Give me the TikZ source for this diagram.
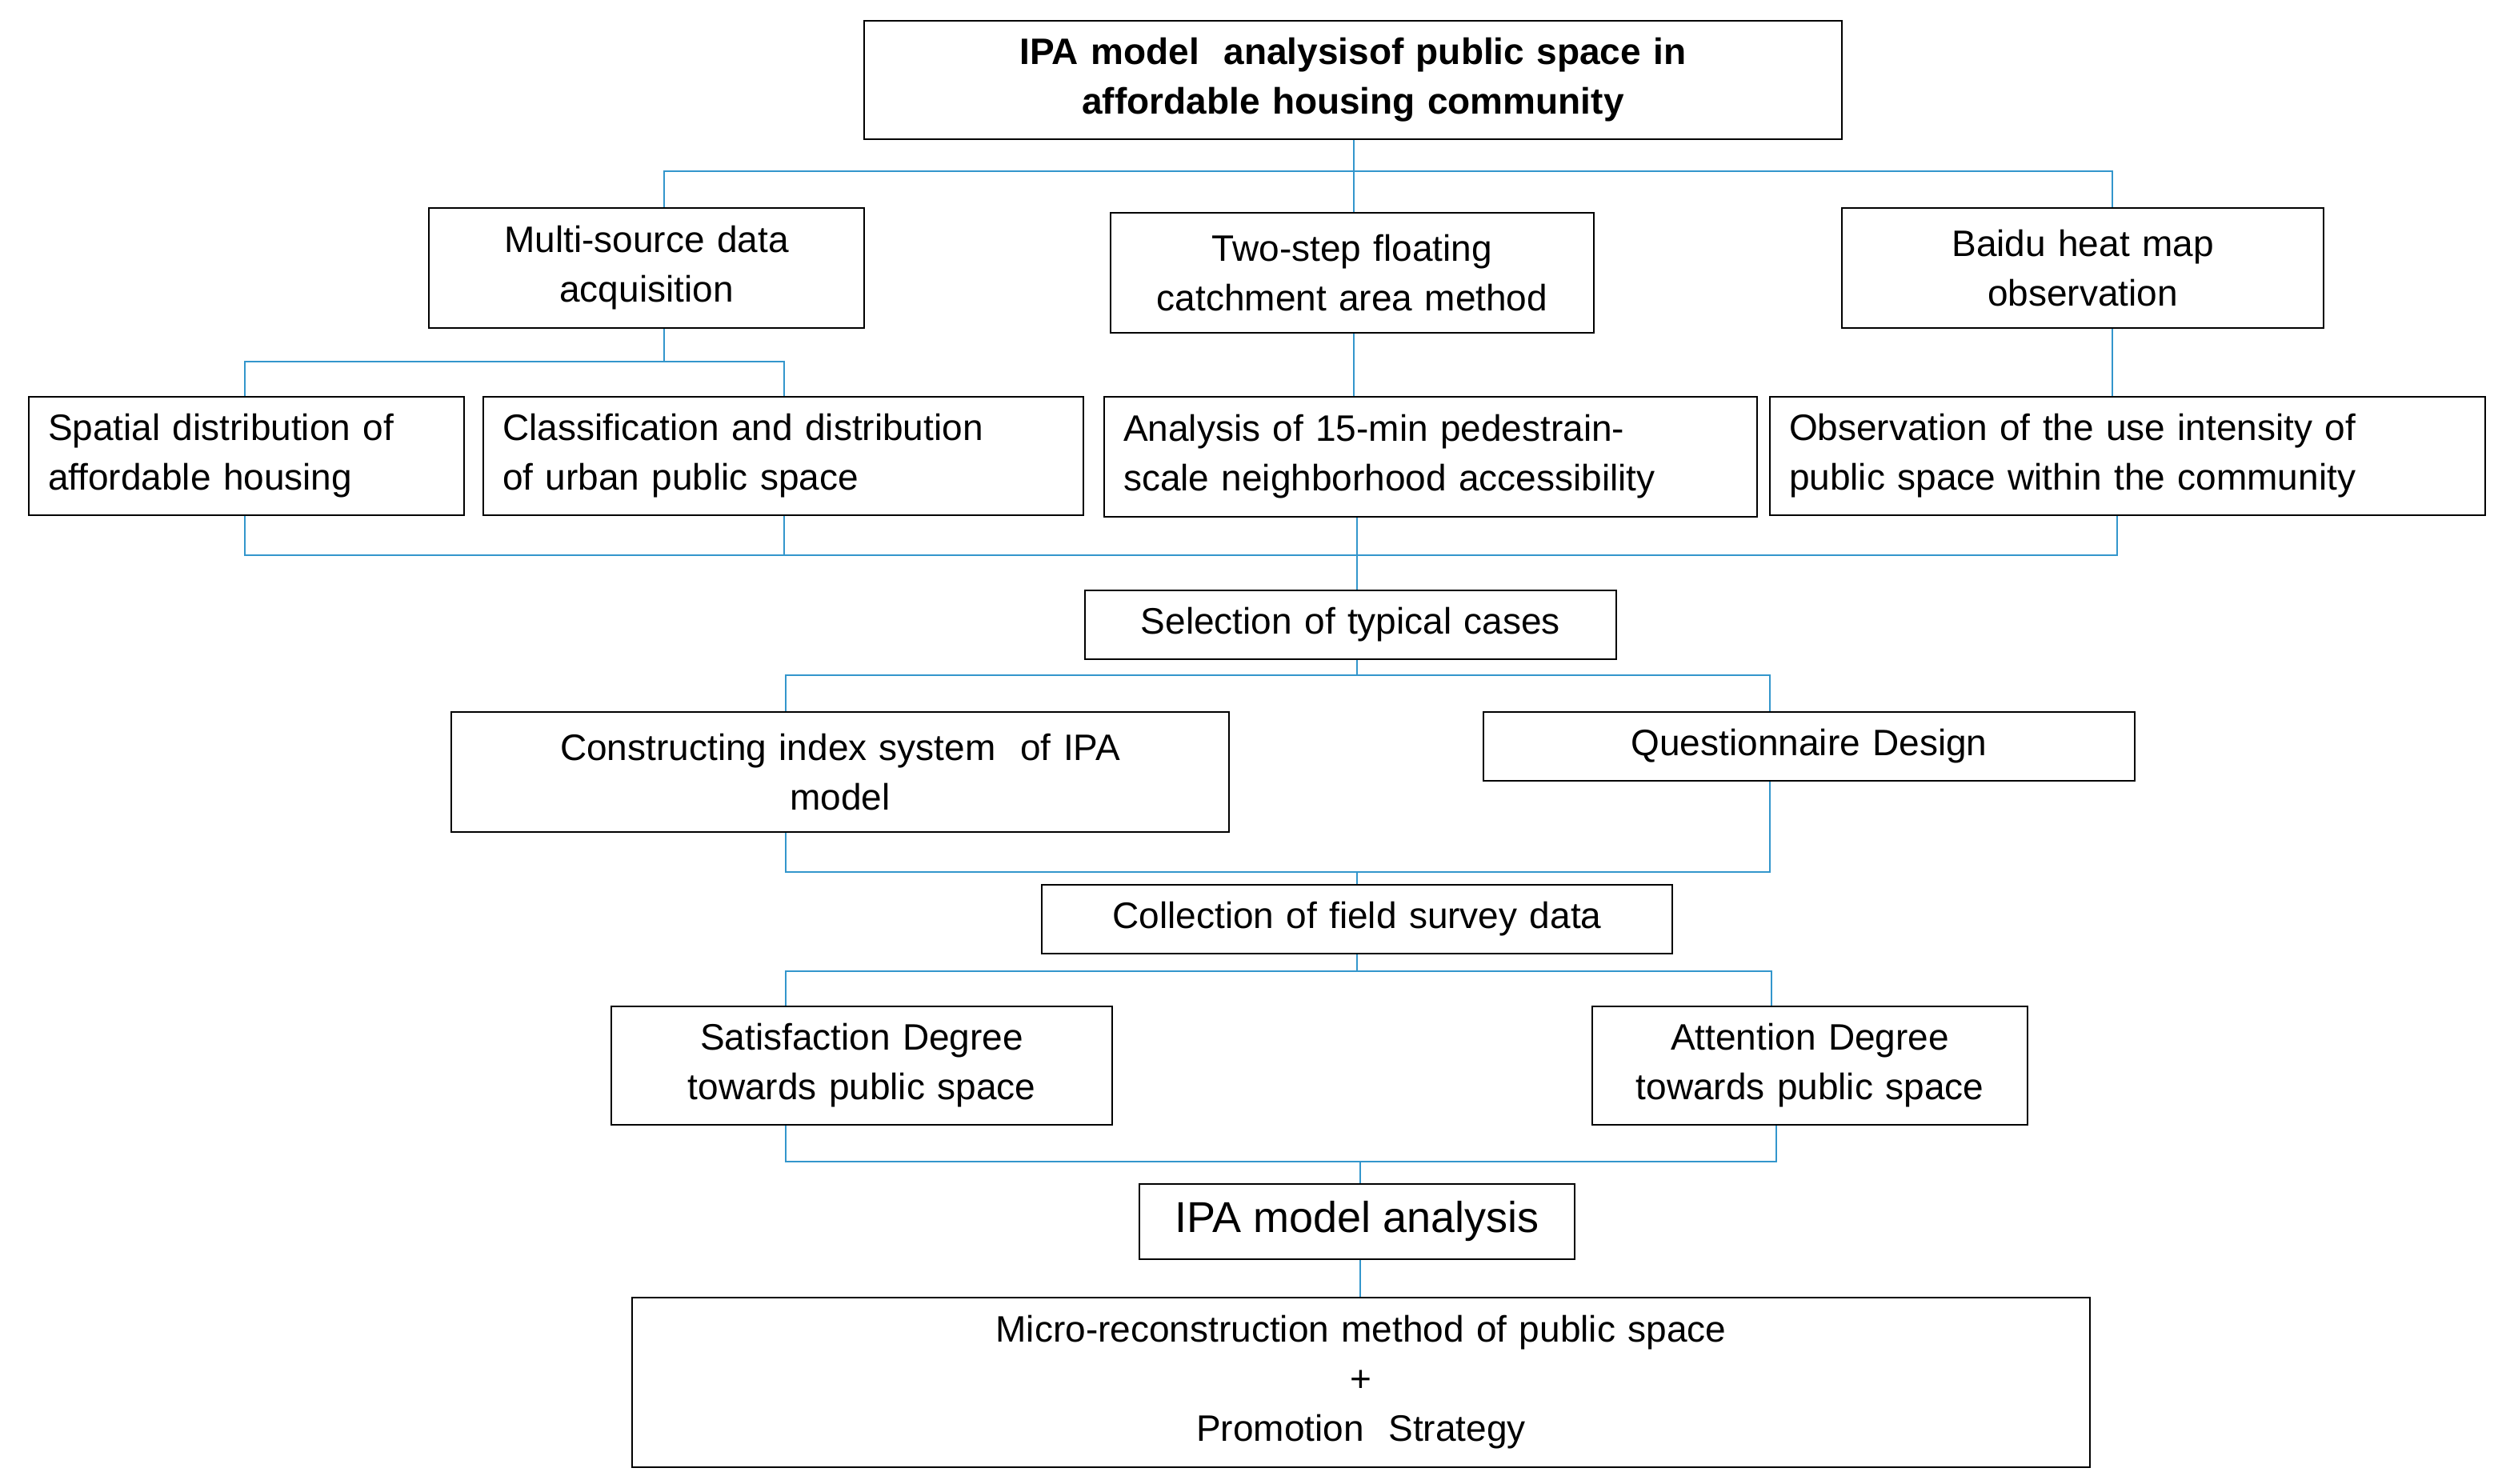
\documentclass[tikz,border=0pt]{standalone}
\usepackage{fontspec}
\setmainfont{Liberation Sans}
\begin{document}
\begin{tikzpicture}[x=1pt,y=-1pt,
  ln/.style={draw=blue!35!cyan!60!gray, line width=1.2pt},
  bx/.style={draw=black, line width=1.2pt, inner sep=0pt, font=\fontsize{23}{31}\selectfont}]
\useasboundingbox (0,0) rectangle (1561,927.5);
\newcommand\bxx[7]{\node[bx, minimum width=#4-#2, minimum height=#5-#3, text width=#4-#2-24pt, align=#6] (#1) at ({(#2+#4)/2},{(#3+#5)/2}) {#7};}
\bxx{t}{540}{13}{1151}{87}{center}{\textbf{IPA model\ \ analysisof public space in}\\\textbf{affordable housing community}}
\bxx{ms}{268}{130}{540}{205}{center}{Multi-source data\\acquisition}
\bxx{ts}{694}{133}{996}{208}{center}{Two-step floating\\catchment area method}
\bxx{bd}{1151}{130}{1452}{205}{center}{Baidu heat map\\observation}
\bxx{sp}{18}{248}{290}{322}{left}{Spatial distribution of\\affordable housing}
\bxx{cl}{302}{248}{677}{322}{left}{Classification and distribution\\of urban public space}
\bxx{an}{690}{248}{1098}{323}{left}{Analysis of 15-min pedestrain-\\scale neighborhood accessibility}
\bxx{ob}{1106}{248}{1553}{322}{left}{Observation of the use intensity of\\public space within the community}
\bxx{se}{678}{369}{1010}{412}{center}{Selection of typical cases}
\bxx{co}{282}{445}{768}{520}{center}{Constructing index system\ \ of IPA\\model}
\bxx{qd}{927}{445}{1334}{488}{center}{Questionnaire Design}
\bxx{cf}{651}{553}{1045}{596}{center}{Collection of field survey data}
\bxx{sd}{382}{629}{695}{703}{center}{Satisfaction Degree\\towards public space}
\bxx{ad}{995}{629}{1267}{703}{center}{Attention Degree\\towards public space}
\node[bx, minimum width=272, minimum height=47, font=\fontsize{27}{31}\selectfont] (ia) at (848,763.5) {IPA model analysis};
\bxx{mr}{395}{811}{1306}{917}{center}{Micro-reconstruction method of public space\\+\\Promotion\ \ Strategy}
% connectors
\coordinate (a1) at (415,107); \coordinate (a2) at (846,107); \coordinate (a3) at (1320,107);
\draw[ln] (t.south -| a2) -- (a2);
\draw[ln] (ms.north -| a1) -- (a1) -- (a3) -- (bd.north -| a3);
\draw[ln] (a2) -- (ts.north -| a2);
\coordinate (b1) at (153,226); \coordinate (b2) at (490,226); \coordinate (b0) at (415,226);
\draw[ln] (ms.south -| b0) -- (b0);
\draw[ln] (sp.north -| b1) -- (b1) -- (b2) -- (cl.north -| b2);
\draw[ln] (ts.south -| 846,0) -- (an.north -| 846,0);
\draw[ln] (bd.south -| a3) -- (ob.north -| a3);
\coordinate (c1) at (153,347); \coordinate (c2) at (490,347); \coordinate (c3) at (848,347); \coordinate (c4) at (1323,347);
\draw[ln] (sp.south -| c1) -- (c1) -- (c4) -- (ob.south -| c4);
\draw[ln] (cl.south -| c2) -- (c2);
\draw[ln] (an.south -| c3) -- (c3) -- (se.north -| c3);
\coordinate (d1) at (491,422); \coordinate (d2) at (1106,422); \coordinate (d0) at (848,422);
\draw[ln] (se.south -| d0) -- (d0);
\draw[ln] (co.north -| d1) -- (d1) -- (d2) -- (qd.north -| d2);
\coordinate (e1) at (491,545); \coordinate (e2) at (1106,545); \coordinate (e0) at (848,545);
\draw[ln] (co.south -| e1) -- (e1) -- (e2) -- (qd.south -| e2);
\draw[ln] (e0) -- (cf.north -| e0);
\coordinate (f1) at (491,607); \coordinate (f2) at (1107,607); \coordinate (f0) at (848,607);
\draw[ln] (cf.south -| f0) -- (f0);
\draw[ln] (sd.north -| f1) -- (f1) -- (f2) -- (ad.north -| f2);
\coordinate (g1) at (491,726); \coordinate (g2) at (1110,726); \coordinate (g0) at (850,726);
\draw[ln] (sd.south -| g1) -- (g1) -- (g2) -- (ad.south -| g2);
\draw[ln] (g0) -- (ia.north -| g0);
\draw[ln] (ia.south -| g0) -- (mr.north -| g0);
\end{tikzpicture}
\end{document}
